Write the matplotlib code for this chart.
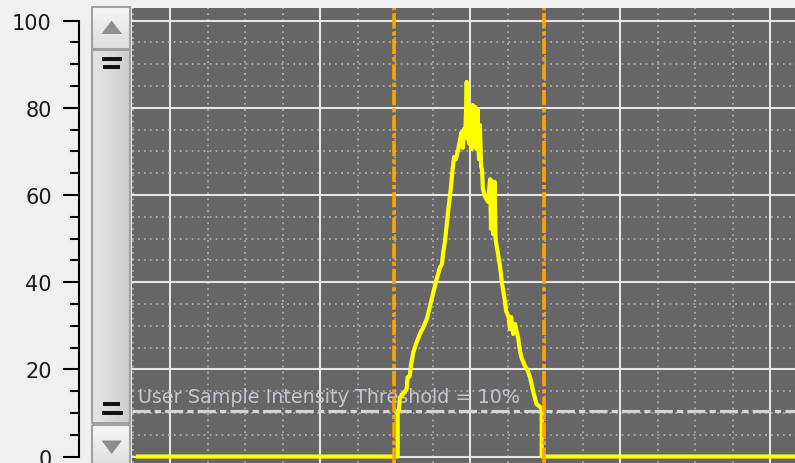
import numpy as np
import matplotlib
matplotlib.use('Agg')
import matplotlib.pyplot as plt
from matplotlib.patches import Rectangle, Polygon
from matplotlib.ticker import MultipleLocator
from matplotlib.colors import LinearSegmentedColormap

plt.rcParams['font.family'] = ['DejaVu Sans']
plt.rcParams['lines.scale_dashes'] = False

# intensity profile
signal_x = [89.3, 175.9, 175.9, 176.3, 176.6, 177.2, 178.9, 179.2, 179.9, 180.3,
            181.1, 182.2, 183.3, 184.4, 185.6, 186.7, 187.8, 188.9, 190.0, 190.6,
            191.1, 191.7, 192.2, 192.8, 193.6, 194.2, 194.7, 195.3, 196.1, 196.7,
            197.2, 197.6, 198.0, 198.4, 198.7, 198.9, 199.2, 199.5, 199.8, 200.2,
            200.5, 200.9, 201.3, 201.7, 202.2, 202.5, 203.0, 203.3, 203.7, 204.0,
            204.3, 205.0, 206.0, 206.7, 207.0, 207.3, 207.7, 208.2, 208.5, 208.9,
            210.0, 210.6, 211.0, 211.7, 212.0, 212.8, 213.3, 213.7, 214.4, 215.0,
            216.1, 216.7, 217.3, 218.3, 219.3, 220.0, 221.1, 222.2, 223.3, 223.9,
            223.9, 308.5]
signal_y = [0, 0, 10.5, 10.6, 13.5, 13.9, 15.5, 18.2, 18.4, 20.8,
            23.9, 26.2, 28.1, 29.6, 31.5, 34.6, 37.7, 40.7, 43.4, 44.0,
            46.9, 49.5, 52.9, 56.8, 61.4, 65.9, 68.7, 68.2, 70.5, 72.8,
            74.4, 70.8, 75.1, 74.0, 79.7, 85.9, 72.8, 80.8, 71.7, 79.0,
            70.5, 80.6, 72.8, 80.2, 70.5, 79.7, 68.2, 76.0, 66.5, 65.9,
            61.4, 59.7, 58.4, 63.6, 52.2, 63.2, 51.0, 63.0, 49.9, 48.3,
            43.7, 40.0, 38.4, 35.4, 33.4, 32.2, 29.2, 32.0, 28.1, 30.4,
            27.0, 24.0, 22.4, 20.8, 19.6, 18.2, 14.8, 12.0, 11.4, 10.9,
            0, 0]
cursor_x = [174.5, 224.5]
threshold = 10.4
threshold_label = 'User Sample Intensity Threshold = 10%'
y_ticks = [0, 20, 40, 60, 80, 100]

W, H = 795, 464
fig = plt.figure(figsize=(W / 100, H / 100), dpi=100, facecolor='#f0f0f0')
ax = fig.add_axes([132 / W, 0, (W - 132) / W, 455 / H])
ax.set_facecolor('#666666')
ax.set_xlim(87.33, 308.33)
ax.set_ylim(-1.49, 102.87)

ax.xaxis.set_major_locator(MultipleLocator(50))
ax.xaxis.set_minor_locator(MultipleLocator(12.5))
ax.set_yticks(y_ticks)
ax.yaxis.set_minor_locator(MultipleLocator(5))
ax.grid(which='major', color='#e6e6e6', lw=1.5)
ax.grid(which='minor', color='#ababab', lw=1.3, linestyle=(0, (1.3, 3.0)))
ax.set_axisbelow(True)

ax.tick_params(axis='x', which='both', length=0, labelbottom=False)
ax.tick_params(axis='y', which='major', length=11.5, width=1.5, pad=8,
               labelsize=15, labelcolor='#1c1c1c')
ax.tick_params(axis='y', which='minor', length=6.5, width=1.5)
for s in ['top', 'right', 'bottom']:
    ax.spines[s].set_visible(False)
ax.spines['left'].set_position(('outward', 38.2))
ax.spines['left'].set_bounds(0, 100)
ax.spines['left'].set_linewidth(1.5)

ax.axhline(threshold, color='#d4d4d4', lw=2.3, linestyle=(0, (13, 3, 4.5, 3)), zorder=2)
ax.text(89.3, 12.6, threshold_label, color='#c2c6ce', fontsize=13.8,
        va='baseline', ha='left', zorder=2.5)
ax.plot(signal_x, signal_y, color='#ffff00', lw=3.0, zorder=3)
for cx in cursor_x:
    ax.axvline(cx, color='#ffa200', lw=2.6, linestyle=(0, (11, 2.2, 3, 2.2)), zorder=4)

# scrollbar drawn in pixel space
ov = fig.add_axes([0, 0, 1, 1], zorder=5)
ov.patch.set_visible(False)
ov.axis('off')
grad = LinearSegmentedColormap.from_list('thumb', ['#e6e6e6', '#cdcdcd'])
ov.imshow(np.linspace(0, 1, 64)[None, :], cmap=grad, aspect='auto',
          extent=(92, 130, 424, 51), zorder=1)
ov.add_patch(Rectangle((92, 51), 38, 373, fc='none', ec='#a0a0a0', lw=1.5, zorder=2))
btn = LinearSegmentedColormap.from_list('btn', ['#f6f6f6', '#dedede'])
ov.imshow(np.linspace(0, 1, 32)[:, None], cmap=btn, aspect='auto',
          extent=(92, 130, 50, 8), zorder=1)
ov.imshow(np.linspace(0, 1, 32)[:, None], cmap=btn, aspect='auto',
          extent=(92, 130, 470, 426), zorder=1)
ov.add_patch(Rectangle((92, 8), 38, 42, fc='none', ec='#a0a0a0', lw=1.5, zorder=2))
ov.add_patch(Rectangle((92, 426), 38, 44, fc='none', ec='#a0a0a0', lw=1.5, zorder=2))
ov.add_patch(Polygon([(101.5, 35), (122, 35), (111.7, 21.5)], fc='#8e8e8e', ec='none', zorder=3))
ov.add_patch(Polygon([(101.5, 441.5), (122, 441.5), (111.7, 455)], fc='#8e8e8e', ec='none', zorder=3))
for gx, gy, gw in [(102, 58, 20), (103.3, 66.3, 17), (103.3, 403.3, 17), (101.5, 412, 21)]:
    ov.add_patch(Rectangle((gx, gy), gw, 3.6, fc='#111111', ec='none', zorder=3))
ov.set_xlim(0, W)
ov.set_ylim(H, 0)

fig.savefig('out.png', dpi=100, facecolor=fig.get_facecolor())
